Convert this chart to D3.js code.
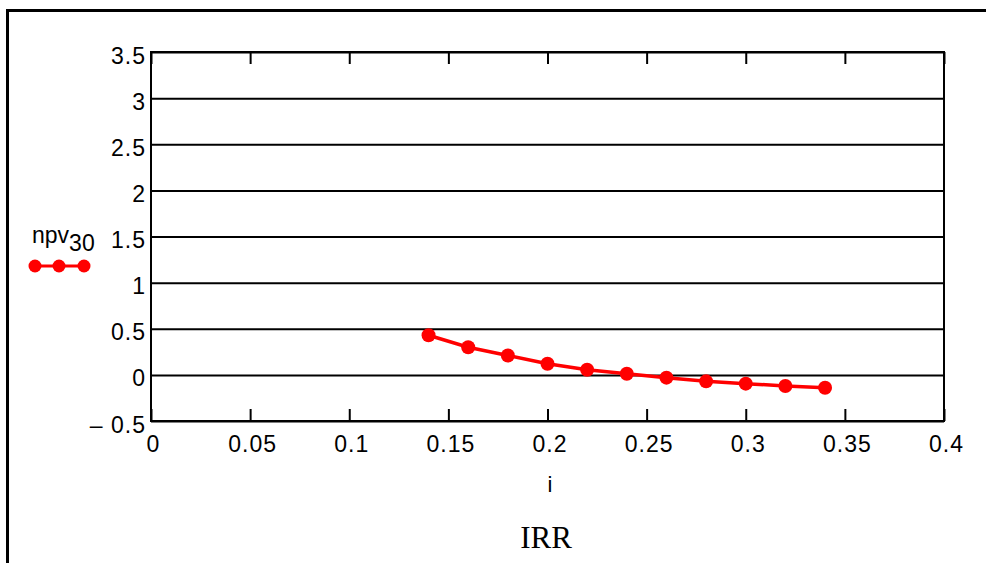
<!DOCTYPE html>
<html>
<head>
<meta charset="utf-8">
<script src="https://cdn.jsdelivr.net/npm/d3@7"></script>
<style>
  body { margin: 0; background: #fff; }
  svg { display: block; }
  text { font-family: Arial, "Liberation Sans", sans-serif; fill: #000; }
</style>
</head>
<body>
<script>
// data
var rates = [0.14, 0.16, 0.18, 0.20, 0.22, 0.24, 0.26, 0.28, 0.30, 0.32, 0.34];
var npv30 = [0.43, 0.30, 0.21, 0.12, 0.055, 0.012, -0.03, -0.07, -0.095, -0.12, -0.14];
var xTicks = [0, 0.05, 0.1, 0.15, 0.2, 0.25, 0.3, 0.35, 0.4];
var xTickLabels = ["0", "0.05", "0.1", "0.15", "0.2", "0.25", "0.3", "0.35", "0.4"];
var yTicks = [-0.5, 0, 0.5, 1, 1.5, 2, 2.5, 3, 3.5];
var yTickLabels = ["\u2013 0.5", "0", "0.5", "1", "1.5", "2", "2.5", "3", "3.5"];

var W = 986, H = 563;
var mLeft = 151, mTop = 52, mRight = 944, mBottom = 421;

var svg = d3.select("body").append("svg").attr("width", W).attr("height", H);

// outer frame (runs off the page on right and bottom)
svg.append("rect").attr("x", 7.5).attr("y", 10.5).attr("width", 1200).attr("height", 800)
  .attr("fill", "none").attr("stroke", "#000").attr("stroke-width", 3);

var x = d3.scaleLinear().domain([0, 0.4]).range([mLeft, mRight]);
var y = d3.scaleLinear().domain([-0.5, 3.5]).range([mBottom, mTop]);

// horizontal grid + y labels
var yAxis = svg.append("g").attr("transform", "translate(" + mLeft + ",0)")
  .call(d3.axisLeft(y).tickValues(yTicks).tickSize(-(mRight - mLeft)).tickPadding(5)
    .tickFormat(function (d, i) { return yTickLabels[i]; }));
yAxis.select(".domain").remove();
yAxis.selectAll(".tick line").attr("stroke", "#000").attr("stroke-width", 2);
yAxis.selectAll(".tick text").style("font-size", "23px").style("font-family", "Arial, 'Liberation Sans', sans-serif")
  .attr("dy", "0.35em").attr("y", 3).attr("letter-spacing", 1);

// bottom ticks pointing inward + labels
var xAxis = svg.append("g").attr("transform", "translate(0," + mBottom + ")")
  .call(d3.axisBottom(x).tickValues(xTicks).tickSize(-12).tickPadding(15)
    .tickFormat(function (d, i) { return xTickLabels[i]; }));
xAxis.select(".domain").remove();
xAxis.selectAll(".tick line").attr("stroke", "#000").attr("stroke-width", 2);
xAxis.selectAll(".tick text").style("font-size", "23px").style("font-family", "Arial, 'Liberation Sans', sans-serif")
  .attr("x", 2).attr("letter-spacing", 1);

// top ticks pointing inward
var xTop = svg.append("g").attr("transform", "translate(0," + mTop + ")")
  .call(d3.axisTop(x).tickValues(xTicks).tickSize(-12).tickFormat(""));
xTop.select(".domain").remove();
xTop.selectAll(".tick line").attr("stroke", "#000").attr("stroke-width", 2);

// plot frame
svg.append("rect").attr("x", mLeft).attr("y", mTop).attr("width", mRight - mLeft).attr("height", mBottom - mTop)
  .attr("fill", "none").attr("stroke", "#000").attr("stroke-width", 2);

// series
var pts = rates.map(function (r, i) { return [r, npv30[i]]; });
svg.append("path").datum(pts)
  .attr("fill", "none").attr("stroke", "#ff0000").attr("stroke-width", 3.5)
  .attr("d", d3.line().x(function (d) { return x(d[0]); }).y(function (d) { return y(d[1]); }));
svg.selectAll("circle.pt").data(pts).enter().append("circle").attr("class", "pt")
  .attr("cx", function (d) { return x(d[0]); }).attr("cy", function (d) { return y(d[1]); })
  .attr("r", 7).attr("fill", "#ff0000");

// legend
var leg = svg.append("text").attr("x", 32).attr("y", 243).style("font-size", "23px");
leg.append("tspan").text("npv");
leg.append("tspan").attr("dy", 8).text("30");
var legX = [35, 59, 84];
svg.append("line").attr("x1", legX[0]).attr("x2", legX[2]).attr("y1", 266).attr("y2", 266)
  .attr("stroke", "#ff0000").attr("stroke-width", 3);
svg.selectAll("circle.leg").data(legX).enter().append("circle").attr("class", "leg")
  .attr("cx", function (d) { return d; }).attr("cy", 266).attr("r", 6.5).attr("fill", "#ff0000");

// axis labels
svg.append("text").attr("x", 550).attr("y", 492).attr("text-anchor", "middle").style("font-size", "22px").text("i");
svg.append("text").attr("x", 546).attr("y", 548).attr("text-anchor", "middle").style("font-size", "31px")
  .style("font-family", "'Times New Roman', 'Liberation Serif', serif").text("IRR");
</script>
</body>
</html>
